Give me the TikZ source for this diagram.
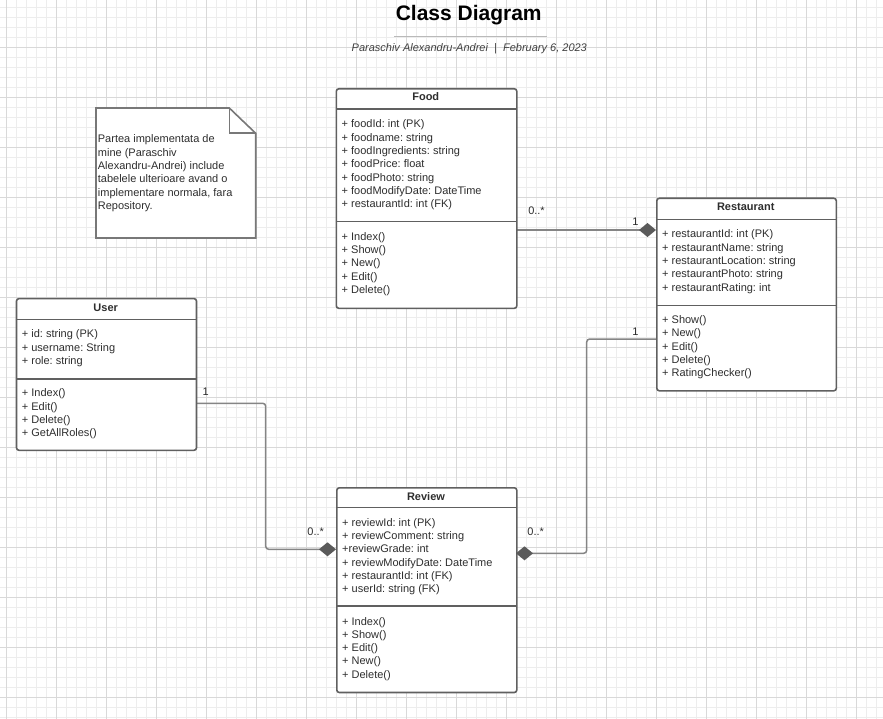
\documentclass[tikz,border=0pt]{standalone}
\usepackage{fontspec}
\setmainfont{Liberation Sans}
\frenchspacing
\definecolor{boxc}{HTML}{606060}
\definecolor{connc}{HTML}{858585}
\definecolor{diac}{HTML}{5A5A5A}
\definecolor{txtc}{HTML}{2E2E2E}
\definecolor{minorc}{HTML}{EDEDED}
\definecolor{majorc}{HTML}{D9D9D9}
\newcommand\bodyfont{\fontsize{11}{13.33}\selectfont}
\newcommand\umlrows[4]{%
  \foreach \t [count=\i] in {#4}
    \node[member] (#1\i) at (#2, {#3+13.33*(\i-1)}) {\t};}
\tikzset{
  member/.style={anchor=base west, inner sep=0pt, font=\bodyfont, text=txtc},
  classbox/.style={draw=boxc, line width=1.6pt, rounded corners=2.5pt, fill=white,
    inner sep=0pt, anchor=north west},
  classline/.style={draw=boxc, line width=1.5pt},
  classtitle/.style={anchor=base, inner sep=0pt, font=\bodyfont\bfseries, text=txtc},
  conn/.style={draw=connc, line width=1.5pt, rounded corners=3pt},
  dia/.style={fill=diac},
  mult/.style={inner sep=0pt, font=\bodyfont, text=txtc},
  minorl/.style={draw=minorc, line width=0.9pt},
  majorl/.style={draw=majorc, line width=0.9pt},
}
\begin{document}
\begin{tikzpicture}[x=1pt, y=-1pt]
\useasboundingbox (0,0) rectangle (883,719);
\fill[white] (0,0) rectangle (883,719);
% grid
\foreach \x in {6,16,...,876} \draw[minorl] (\x,0) -- (\x,719);
\foreach \y in {7,17,...,717} \draw[minorl] (0,\y) -- (883,\y);
\foreach \x in {6,56,...,856} \draw[majorl] (\x,0) -- (\x,719);
\foreach \y in {47,97,...,697} \draw[majorl] (0,\y) -- (883,\y);

% title
\node[anchor=base, inner sep=0pt, font=\bfseries\fontsize{21}{25}\selectfont] (title) at (468.7,20.7) {Class Diagram};
\draw[draw=gray!55, line width=1.4pt] (394,36.5) -- (546.7,36.5);
\node[anchor=base, inner sep=0pt, font=\itshape\bodyfont, text=black!75] (subtitle) at (469.3,52) {Paraschiv Alexandru-Andrei\ \ |\ \ February 6, 2023};

% note
\draw[draw=boxc!85, line width=1.6pt, fill=white] (96,108) -- (229.3,108) -- (255.7,133.3) -- (255.7,238) -- (96,238) -- cycle;
\draw[draw=boxc!85, line width=1.6pt] (229.3,108) -- (229.3,133.3) -- (255.7,133.3);
\coordinate (note) at (96,108);
\umlrows{note}{97.7}{142.8}{{Partea implementata de},{mine (Paraschiv},{Alexandru-Andrei) include},{tabelele ulterioare avand o},{implementare normala, fara},{Repository.}}

% connectors
\coordinate (foodR) at (516,230);
\coordinate (restL) at (656,230);
\draw[conn] (foodR) -- ([xshift=-16pt]restL);
\coordinate (restL2) at (656,339);
\coordinate (revR) at (516,553.3);
\draw[conn] (restL2) -- (586.7,339) -- (586.7,553.3) -- ([xshift=16pt]revR);
\coordinate (userR) at (195.7,403.3);
\coordinate (revL) at (336,549.3);
\draw[conn] (userR) -- (265.7,403.3) -- (265.7,549.3) -- ([xshift=-16pt]revL);

% Food
\node[classbox, minimum width=180.5pt, minimum height=219.5pt] (food) at (335.5,88) {};
\draw[classline] (335.5,109) -- (516,109);
\draw[classline] (335.5,221.5) -- (516,221.5);
\node[classtitle] (foodT) at (425.75,100.8) {Food};
\umlrows{fa}{341.5}{128}{{+ foodId: int (PK)},{+ foodname: string},{+ foodIngredients: string},{+ foodPrice: float},{+ foodPhoto: string},{+ foodModifyDate: DateTime},{+ restaurantId: int (FK)}}
\umlrows{fm}{341.5}{240.3}{{+ Index()},{+ Show()},{+ New()},{+ Edit()},{+ Delete()}}

% Restaurant
\node[classbox, minimum width=179.5pt, minimum height=192.5pt] (rest) at (656,197.5) {};
\draw[classline] (656,219.3) -- (835.5,219.3);
\draw[classline] (656,305.7) -- (835.5,305.7);
\node[classtitle] (restT) at (745.75,211) {Restaurant};
\umlrows{ra}{662}{237.8}{{+ restaurantId: int (PK)},{+ restaurantName: string},{+ restaurantLocation: string},{+ restaurantPhoto: string},{+ restaurantRating: int}}
\umlrows{rm}{662}{323.5}{{+ Show()},{+ New()},{+ Edit()},{+ Delete()},{+ RatingChecker()}}

% User
\node[classbox, minimum width=180pt, minimum height=151.7pt] (user) at (15.7,297.8) {};
\draw[classline] (15.7,319.3) -- (195.7,319.3);
\draw[classline] (15.7,379) -- (195.7,379);
\node[classtitle] (userT) at (105.7,311.5) {User};
\umlrows{ua}{21.7}{337.8}{{+ id: string (PK)},{+ username: String},{+ role: string}}
\umlrows{um}{21.7}{396.9}{{+ Index()},{+ Edit()},{+ Delete()},{+ GetAllRoles()}}

% Review
\node[classbox, minimum width=180pt, minimum height=204.7pt] (review) at (336,487) {};
\draw[classline] (336,507.7) -- (516,507.7);
\draw[classline] (336,606) -- (516,606);
\node[classtitle] (reviewT) at (426,500) {Review};
\umlrows{va}{342}{526.3}{{+ reviewId: int (PK)},{+ reviewComment: string},{+reviewGrade: int},{+ reviewModifyDate: DateTime},{+ restaurantId: int (FK)},{+ userId: string (FK)}}
\umlrows{vm}{342}{625}{{+ Index()},{+ Show()},{+ Edit()},{+ New()},{+ Delete()}}

% diamonds
\fill[dia] (restL) -- ++(-8.5,-7) -- ++(-8.5,7) -- ++(8.5,7) -- cycle;
\fill[dia] (revR) -- ++(8.5,-7) -- ++(8.5,7) -- ++(-8.5,7) -- cycle;
\fill[dia] (revL) -- ++(-8.5,-7) -- ++(-8.5,7) -- ++(8.5,7) -- cycle;

% multiplicities
\node[mult] (m1) at (536.5,211) {0..*};
\node[mult] (m2) at (635.5,221.5) {1};
\node[mult] (m3) at (635.5,331.5) {1};
\node[mult] (m4) at (535.7,531.5) {0..*};
\node[mult] (m5) at (205.7,391.5) {1};
\node[mult] (m6) at (315.7,531.5) {0..*};
\end{tikzpicture}
\end{document}
